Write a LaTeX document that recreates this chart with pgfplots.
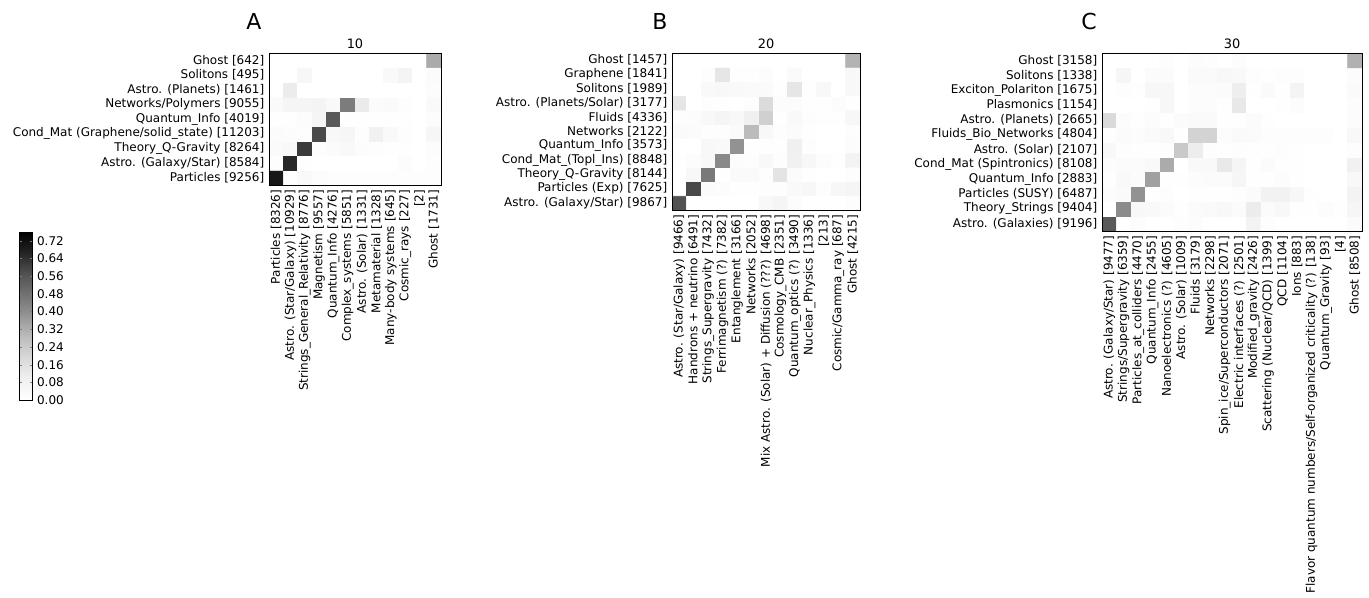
\documentclass[border=0pt]{standalone}
\usepackage{fontspec}
\setmainfont{DejaVu Sans}
\usepackage{pgfplots}
\pgfplotsset{compat=1.18}
\pgfplotsset{
  colormap={mygreys}{rgb255=(255,255,255) rgb255=(240,240,240) rgb255=(217,217,217) rgb255=(189,189,189) rgb255=(150,150,150) rgb255=(115,115,115) rgb255=(82,82,82) rgb255=(37,37,37) rgb255=(0,0,0)},
  heat/.style={scale only axis, axis on top, colormap name=mygreys,
    point meta min=0, point meta max=0.76, enlargelimits=false,
    major tick length=0pt, font=\fontsize{9}{11}\selectfont,
    tick label style={font=\fontsize{9}{11}\selectfont},
    x tick label style={rotate=90, anchor=east},
    title style={font=\fontsize{9.7}{11}\selectfont, yshift=-6pt},
    axis line style={line width=0.7pt},
    anchor=north west},
  hm/.style={matrix plot*, point meta=explicit, mesh/cols=#1},
}
\begin{document}
\begin{tikzpicture}
\path[use as bounding box] (0,0) rectangle (1026.75pt,-447.75pt);
\coordinate (cbpos) at (6pt,-174pt);
\node[font=\fontsize{16.5}{20}\selectfont] at (190.5pt,-15.75pt) {A};
\node[font=\fontsize{16.5}{20}\selectfont] at (495pt,-15.75pt) {B};
\node[font=\fontsize{16.5}{20}\selectfont] at (816.75pt,-15.75pt) {C};
% ---------------- Panel A ----------------
\begin{axis}[heat, at={(201.75pt,-39.75pt)}, width=129pt, height=99pt,
  xmin=-0.5, xmax=11.5, ymin=-0.5, ymax=8.5, title={10},
  xtick={0,...,11}, ytick={0,...,8},
  xticklabels={{Particles [8326]},{Astro. (Star/Galaxy) [10929]},{Strings\_General\_Relativity [8776]},{Magnetism [9557]},{Quantum\_Info [4276]},{Complex\_systems [5851]},{Astro. (Solar) [1331]},{Metamaterial [1328]},{Many-body systems [645]},{Cosmic\_rays [227]},{[2]},{Ghost [1731]}},
  yticklabels={{Particles [9256]},{Astro. (Galaxy/Star) [8584]},{Theory\_Q-Gravity [8264]},{Cond\_Mat (Graphene/solid\_state) [11203]},{Quantum\_Info [4019]},{Networks/Polymers [9055]},{Astro. (Planets) [1461]},{Solitons [495]},{Ghost [642]}},
  colorbar,
  colorbar style={at={(cbpos)}, anchor=north west, width=9.75pt, height=126pt,
    ytick={0,0.08,0.16,0.24,0.32,0.40,0.48,0.56,0.64,0.72},
    yticklabel style={font=\fontsize{9}{11}\selectfont, /pgf/number format/.cd, fixed, fixed zerofill, precision=2, assume math mode=true},
    major tick length=2pt, tick align=inside, axis line style={line width=0.6pt}},
]
\addplot[hm=12] table[row sep=\\, meta=c] {
x y c \\
0 0 0.70 \\ 1 0 0.006 \\ 2 0 0.038 \\ 3 0 0.019 \\ 4 0 0.013 \\ 5 0 0.013 \\ 6 0 0.013 \\ 7 0 0.013 \\ 8 0 0.013 \\ 9 0 0.013 \\ 10 0 0.013 \\ 11 0 0.013 \\
0 1 0.013 \\ 1 1 0.66 \\ 2 1 0.006 \\ 3 1 0 \\ 4 1 0 \\ 5 1 0 \\ 6 1 0 \\ 7 1 0 \\ 8 1 0 \\ 9 1 0.019 \\ 10 1 0 \\ 11 1 0.013 \\
0 2 0.032 \\ 1 2 0.044 \\ 2 2 0.62 \\ 3 2 0.013 \\ 4 2 0.025 \\ 5 2 0.038 \\ 6 2 0.019 \\ 7 2 0.013 \\ 8 2 0.006 \\ 9 2 0.006 \\ 10 2 0 \\ 11 2 0.019 \\
0 3 0.025 \\ 1 3 0.019 \\ 2 3 0.013 \\ 3 3 0.587 \\ 4 3 0.044 \\ 5 3 0.057 \\ 6 3 0.013 \\ 7 3 0.089 \\ 8 3 0.038 \\ 9 3 0.013 \\ 10 3 0 \\ 11 3 0.057 \\
0 4 0.006 \\ 1 4 0.006 \\ 2 4 0.019 \\ 3 4 0.063 \\ 4 4 0.55 \\ 5 4 0.006 \\ 6 4 0.006 \\ 7 4 0.006 \\ 8 4 0.006 \\ 9 4 0.006 \\ 10 4 0 \\ 11 4 0.019 \\
0 5 0.032 \\ 1 5 0.063 \\ 2 5 0.063 \\ 3 5 0.07 \\ 4 5 0.038 \\ 5 5 0.45 \\ 6 5 0.116 \\ 7 5 0.025 \\ 8 5 0.032 \\ 9 5 0.013 \\ 10 5 0 \\ 11 5 0.038 \\
0 6 0 \\ 1 6 0.11 \\ 2 6 0 \\ 3 6 0 \\ 4 6 0 \\ 5 6 0 \\ 6 6 0 \\ 7 6 0 \\ 8 6 0 \\ 9 6 0 \\ 10 6 0 \\ 11 6 0.019 \\
0 7 0 \\ 1 7 0 \\ 2 7 0.051 \\ 3 7 0 \\ 4 7 0 \\ 5 7 0 \\ 6 7 0 \\ 7 7 0 \\ 8 7 0.038 \\ 9 7 0.07 \\ 10 7 0 \\ 11 7 0.025 \\
0 8 0 \\ 1 8 0 \\ 2 8 0 \\ 3 8 0 \\ 4 8 0 \\ 5 8 0 \\ 6 8 0 \\ 7 8 0 \\ 8 8 0 \\ 9 8 0 \\ 10 8 0 \\ 11 8 0.33 \\
};
\end{axis}
% ---------------- Panel B ----------------
\begin{axis}[heat, at={(504pt,-39.75pt)}, width=141pt, height=117.75pt,
  xmin=-0.5, xmax=12.5, ymin=-0.5, ymax=10.5, title={20},
  xtick={0,...,12}, ytick={0,...,10},
  xticklabels={{Astro. (Star/Galaxy) [9466]},{Handrons + neutrino [6491]},{Strings\_Supergravity [7432]},{Ferrimagnetism (?) [7382]},{Entanglement [3166]},{Networks [2052]},{Mix Astro. (Solar) + Diffusion (???) [4698]},{Cosmology\_CMB [2351]},{Quantum\_optics (?) [3490]},{Nuclear\_Physics [1336]},{[213]},{Cosmic/Gamma\_ray [687]},{Ghost [4215]}},
  yticklabels={{Astro. (Galaxy/Star) [9867]},{Particles (Exp) [7625]},{Theory\_Q-Gravity [8144]},{Cond\_Mat\_(Topl\_Ins) [8848]},{Quantum\_Info [3573]},{Networks [2122]},{Fluids [4336]},{Astro. (Planets/Solar) [3177]},{Solitons [1989]},{Graphene [1841]},{Ghost [1457]}},
]
\addplot[hm=13] table[row sep=\\, meta=c] {
x y c \\
0 0 0.57 \\ 1 0 0 \\ 2 0 0 \\ 3 0 0 \\ 4 0 0 \\ 5 0 0 \\ 6 0 0.044 \\ 7 0 0.063 \\ 8 0 0.019 \\ 9 0 0 \\ 10 0 0 \\ 11 0 0 \\ 12 0 0.013 \\
0 1 0 \\ 1 1 0.59 \\ 2 1 0.025 \\ 3 1 0.019 \\ 4 1 0.006 \\ 5 1 0.006 \\ 6 1 0.013 \\ 7 1 0.013 \\ 8 1 0.038 \\ 9 1 0.051 \\ 10 1 0.013 \\ 11 1 0.051 \\ 12 1 0.063 \\
0 2 0 \\ 1 2 0.044 \\ 2 2 0.46 \\ 3 2 0.006 \\ 4 2 0.032 \\ 5 2 0.032 \\ 6 2 0.013 \\ 7 2 0.145 \\ 8 2 0.025 \\ 9 2 0.006 \\ 10 2 0 \\ 11 2 0 \\ 12 2 0.013 \\
0 3 0.006 \\ 1 3 0.019 \\ 2 3 0.044 \\ 3 3 0.415 \\ 4 3 0.019 \\ 5 3 0.013 \\ 6 3 0.044 \\ 7 3 0.013 \\ 8 3 0.089 \\ 9 3 0.051 \\ 10 3 0.019 \\ 11 3 0.006 \\ 12 3 0.076 \\
0 4 0 \\ 1 4 0 \\ 2 4 0.044 \\ 3 4 0.038 \\ 4 4 0.39 \\ 5 4 0.006 \\ 6 4 0.006 \\ 7 4 0.006 \\ 8 4 0.095 \\ 9 4 0.013 \\ 10 4 0 \\ 11 4 0 \\ 12 4 0.019 \\
0 5 0.032 \\ 1 5 0.025 \\ 2 5 0.013 \\ 3 5 0.013 \\ 4 5 0.032 \\ 5 5 0.29 \\ 6 5 0.044 \\ 7 5 0.013 \\ 8 5 0.025 \\ 9 5 0.006 \\ 10 5 0 \\ 11 5 0 \\ 12 5 0.013 \\
0 6 0.013 \\ 1 6 0.019 \\ 2 6 0.044 \\ 3 6 0.063 \\ 4 6 0.044 \\ 5 6 0.095 \\ 6 6 0.22 \\ 7 6 0.006 \\ 8 6 0.038 \\ 9 6 0.013 \\ 10 6 0.006 \\ 11 6 0.006 \\ 12 6 0.051 \\
0 7 0.136 \\ 1 7 0 \\ 2 7 0.013 \\ 3 7 0.006 \\ 4 7 0 \\ 5 7 0.013 \\ 6 7 0.18 \\ 7 7 0.019 \\ 8 7 0.019 \\ 9 7 0.006 \\ 10 7 0.006 \\ 11 7 0.019 \\ 12 7 0.006 \\
0 8 0 \\ 1 8 0 \\ 2 8 0.038 \\ 3 8 0.044 \\ 4 8 0.038 \\ 5 8 0.032 \\ 6 8 0.032 \\ 7 8 0.006 \\ 8 8 0.136 \\ 9 8 0.006 \\ 10 8 0.044 \\ 11 8 0 \\ 12 8 0.044 \\
0 9 0 \\ 1 9 0 \\ 2 9 0.013 \\ 3 9 0.136 \\ 4 9 0.006 \\ 5 9 0.006 \\ 6 9 0.019 \\ 7 9 0 \\ 8 9 0.032 \\ 9 9 0 \\ 10 9 0 \\ 11 9 0 \\ 12 9 0.044 \\
0 10 0 \\ 1 10 0 \\ 2 10 0 \\ 3 10 0 \\ 4 10 0 \\ 5 10 0 \\ 6 10 0 \\ 7 10 0 \\ 8 10 0 \\ 9 10 0 \\ 10 10 0 \\ 11 10 0 \\ 12 10 0.31 \\
};
\end{axis}
% ---------------- Panel C ----------------
\begin{axis}[heat, at={(826.5pt,-39.75pt)}, width=195pt, height=133.5pt,
  xmin=-0.5, xmax=17.5, ymin=-0.5, ymax=11.5, title={30},
  xtick={0,...,17}, ytick={0,...,11},
  xticklabels={{Astro. (Galaxy/Star) [9477]},{Strings/Supergravity [6359]},{Particles\_at\_colliders [4470]},{Quantum\_Info [2455]},{Nanoelectronics (?) [4605]},{Astro. (Solar) [1009]},{Fluids [3179]},{Networks [2298]},{Spin\_ice/Superconductors [2071]},{Electric interfaces (?) [2501]},{Modified\_gravity [2426]},{Scattering (Nuclear/QCD) [1399]},{QCD [1104]},{Ions [883]},{Flavor quantum numbers/Self-organized criticality (?) [138]},{Quantum\_Gravity [93]},{[4]},{Ghost [8508]}},
  yticklabels={{Astro. (Galaxies) [9196]},{Theory\_Strings [9404]},{Particles (SUSY) [6487]},{Quantum\_Info [2883]},{Cond\_Mat (Spintronics) [8108]},{Astro. (Solar) [2107]},{Fluids\_Bio\_Networks [4804]},{Astro. (Planets) [2665]},{Plasmonics [1154]},{Exciton\_Polariton [1675]},{Solitons [1338]},{Ghost [3158]}},
]
\addplot[hm=18] table[row sep=\\, meta=c] {
x y c \\
0 0 0.55 \\ 1 0 0 \\ 2 0 0.019 \\ 3 0 0 \\ 4 0 0 \\ 5 0 0.013 \\ 6 0 0.019 \\ 7 0 0 \\ 8 0 0 \\ 9 0 0 \\ 10 0 0.076 \\ 11 0 0.013 \\ 12 0 0 \\ 13 0 0 \\ 14 0 0 \\ 15 0 0 \\ 16 0 0 \\ 17 0 0.025 \\
0 1 0 \\ 1 1 0.41 \\ 2 1 0.044 \\ 3 1 0.038 \\ 4 1 0.025 \\ 5 1 0.006 \\ 6 1 0.025 \\ 7 1 0.032 \\ 8 1 0.044 \\ 9 1 0.025 \\ 10 1 0.11 \\ 11 1 0.025 \\ 12 1 0.044 \\ 13 1 0.006 \\ 14 1 0.006 \\ 15 1 0.019 \\ 16 1 0.006 \\ 17 1 0.057 \\
0 2 0.019 \\ 1 2 0.032 \\ 2 2 0.39 \\ 3 2 0.006 \\ 4 2 0.013 \\ 5 2 0 \\ 6 2 0.006 \\ 7 2 0.006 \\ 8 2 0.006 \\ 9 2 0.013 \\ 10 2 0.025 \\ 11 2 0.082 \\ 12 2 0.082 \\ 13 2 0.051 \\ 14 2 0.006 \\ 15 2 0 \\ 16 2 0 \\ 17 2 0.076 \\
0 3 0.006 \\ 1 3 0.038 \\ 2 3 0.025 \\ 3 3 0.355 \\ 4 3 0.006 \\ 5 3 0.006 \\ 6 3 0.019 \\ 7 3 0.025 \\ 8 3 0.025 \\ 9 3 0.057 \\ 10 3 0.006 \\ 11 3 0.006 \\ 12 3 0.019 \\ 13 3 0.006 \\ 14 3 0 \\ 15 3 0 \\ 16 3 0 \\ 17 3 0.044 \\
0 4 0.019 \\ 1 4 0.025 \\ 2 4 0.025 \\ 3 4 0.038 \\ 4 4 0.33 \\ 5 4 0 \\ 6 4 0.038 \\ 7 4 0.038 \\ 8 4 0.124 \\ 9 4 0.063 \\ 10 4 0.006 \\ 11 4 0.025 \\ 12 4 0.006 \\ 13 4 0.006 \\ 14 4 0 \\ 15 4 0 \\ 16 4 0 \\ 17 4 0.09 \\
0 5 0.044 \\ 1 5 0.013 \\ 2 5 0.006 \\ 3 5 0.006 \\ 4 5 0.013 \\ 5 5 0.245 \\ 6 5 0.107 \\ 7 5 0.013 \\ 8 5 0.006 \\ 9 5 0.013 \\ 10 5 0.006 \\ 11 5 0.006 \\ 12 5 0.013 \\ 13 5 0.006 \\ 14 5 0 \\ 15 5 0 \\ 16 5 0 \\ 17 5 0.013 \\
0 6 0.006 \\ 1 6 0.025 \\ 2 6 0.019 \\ 3 6 0.032 \\ 4 6 0.044 \\ 5 6 0.006 \\ 6 6 0.21 \\ 7 6 0.21 \\ 8 6 0.019 \\ 9 6 0.032 \\ 10 6 0.025 \\ 11 6 0.013 \\ 12 6 0.013 \\ 13 6 0.013 \\ 14 6 0.013 \\ 15 6 0.013 \\ 16 6 0 \\ 17 6 0.044 \\
0 7 0.186 \\ 1 7 0.019 \\ 2 7 0.006 \\ 3 7 0.019 \\ 4 7 0.006 \\ 5 7 0.025 \\ 6 7 0.032 \\ 7 7 0.032 \\ 8 7 0.006 \\ 9 7 0.006 \\ 10 7 0.025 \\ 11 7 0.006 \\ 12 7 0 \\ 13 7 0 \\ 14 7 0 \\ 15 7 0 \\ 16 7 0 \\ 17 7 0.019 \\
0 8 0 \\ 1 8 0 \\ 2 8 0 \\ 3 8 0.006 \\ 4 8 0.051 \\ 5 8 0 \\ 6 8 0.019 \\ 7 8 0.019 \\ 8 8 0.006 \\ 9 8 0.128 \\ 10 8 0 \\ 11 8 0 \\ 12 8 0.006 \\ 13 8 0.019 \\ 14 8 0 \\ 15 8 0 \\ 16 8 0 \\ 17 8 0.019 \\
0 9 0 \\ 1 9 0.013 \\ 2 9 0.006 \\ 3 9 0.051 \\ 4 9 0.051 \\ 5 9 0 \\ 6 9 0.019 \\ 7 9 0.019 \\ 8 9 0.025 \\ 9 9 0.103 \\ 10 9 0.006 \\ 11 9 0.032 \\ 12 9 0.006 \\ 13 9 0.07 \\ 14 9 0 \\ 15 9 0 \\ 16 9 0 \\ 17 9 0.032 \\
0 10 0 \\ 1 10 0.057 \\ 2 10 0 \\ 3 10 0.025 \\ 4 10 0.025 \\ 5 10 0 \\ 6 10 0.032 \\ 7 10 0.032 \\ 8 10 0.044 \\ 9 10 0.038 \\ 10 10 0.013 \\ 11 10 0.006 \\ 12 10 0.013 \\ 13 10 0.013 \\ 14 10 0 \\ 15 10 0 \\ 16 10 0 \\ 17 10 0.019 \\
0 11 0 \\ 1 11 0 \\ 2 11 0 \\ 3 11 0 \\ 4 11 0.013 \\ 5 11 0 \\ 6 11 0.019 \\ 7 11 0.013 \\ 8 11 0 \\ 9 11 0.019 \\ 10 11 0 \\ 11 11 0 \\ 12 11 0 \\ 13 11 0 \\ 14 11 0 \\ 15 11 0 \\ 16 11 0 \\ 17 11 0.314 \\
};
\end{axis}
\end{tikzpicture}
\end{document}
